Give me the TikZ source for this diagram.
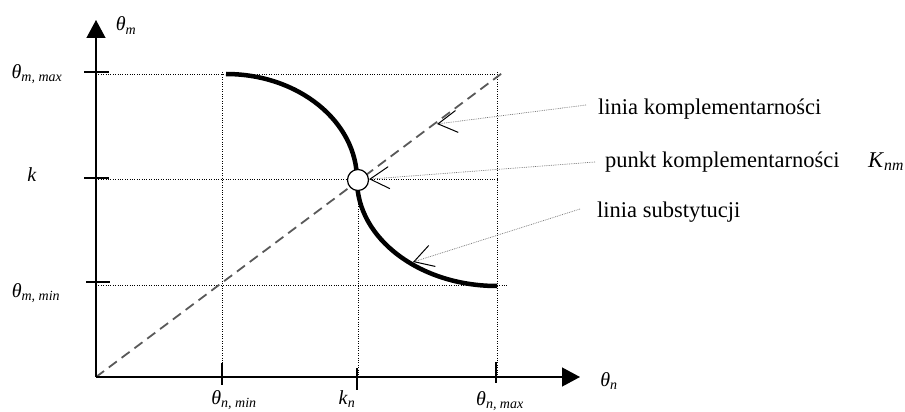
\documentclass[tikz,border=0pt]{standalone}
\usepackage{fontspec}
\setmainfont{Liberation Serif}
\usetikzlibrary{arrows.meta,calc}
\newcommand{\ths}[2]{\textit{#1}\textsubscript{\textit{#2}}}
\begin{document}
\begin{tikzpicture}[x=1pt,y=-1pt,
  axis/.style={line width=1.3pt,-{Triangle[length=18pt,width=19pt]}},
  tickmark/.style={line width=1.3pt},
  gridline/.style={line width=0.9pt,dash pattern=on 1pt off 1.4pt},
  diag/.style={line width=1.8pt,draw=black!65,dash pattern=on 10pt off 6pt},
  curvestyle/.style={line width=4.5pt},
  callout/.style={line width=0.7pt,draw=black!55,dash pattern=on 0.8pt off 1pt,-{Straight Barb[length=19pt,width=22pt,line width=1pt,color=black]}},
  lbl/.style={font=\fontsize{20}{24}\selectfont,inner sep=0pt,anchor=base},
  txt/.style={font=\fontsize{22.5}{27}\selectfont,inner sep=0pt,anchor=base west}
]
\useasboundingbox (0,0) rectangle (905,412);
% key coordinates
\coordinate (O) at (96,377);
\coordinate (Ytop) at (96,20);
\coordinate (Xend) at (580,377);
\coordinate (D) at (505,71);
\coordinate (A) at (226,74);
\coordinate (B) at (357,180);
\coordinate (C) at (497,286);
% grid (dotted)
\coordinate (gmaxL) at (96,74);   \coordinate (gmaxR) at (497,74);
\coordinate (gkL) at (96,179);    \coordinate (gkR) at (497,179);
\coordinate (gminL) at (96,285);  \coordinate (gminR) at (508,285);
\coordinate (vminT) at (222,72);  \coordinate (vminB) at (222,377);
\coordinate (vkT) at (358,180);   \coordinate (vkB) at (358,377);
\coordinate (vmaxT) at (497,72);  \coordinate (vmaxB) at (497,377);
\draw[gridline] (gmaxL) -- (gmaxR);
\draw[gridline] (gkL) -- (gkR);
\draw[gridline] (gminL) -- (gminR);
\draw[gridline] (vminT) -- (vminB);
\draw[gridline] (vkT) -- (vkB);
\draw[gridline] (vmaxT) -- (vmaxB);
% complementarity line
\draw[diag] (O) -- (D);
% substitution curve
\draw[curvestyle] (A) .. controls (298.4,74) and (357,121.5) .. (B)
                      .. controls (357,238.5) and (419.7,286) .. (C);
% complementarity point
\node[circle,draw,fill=white,line width=1.2pt,minimum size=21pt,inner sep=0pt] (Kc) at (358,180) {};
% axes
\draw[axis] (O) -- (Ytop);
\draw[axis] (O) -- (Xend);
% ticks
\coordinate (t1a) at (84,72);  \coordinate (t1b) at (109,72);
\coordinate (t2a) at (84,178); \coordinate (t2b) at (109,178);
\coordinate (t3a) at (86,282); \coordinate (t3b) at (110,282);
\coordinate (t4a) at (222,363); \coordinate (t4b) at (222,385);
\coordinate (t5a) at (357,368); \coordinate (t5b) at (357,390);
\coordinate (t6a) at (496,362); \coordinate (t6b) at (496,383);
\draw[tickmark] (t1a) -- (t1b);
\draw[tickmark] (t2a) -- (t2b);
\draw[tickmark] (t3a) -- (t3b);
\draw[tickmark] (t4a) -- (t4b);
\draw[tickmark] (t5a) -- (t5b);
\draw[tickmark] (t6a) -- (t6b);
% axis labels
\node[lbl] (lm) at (126,31) {\ths{θ}{m}};
\node[lbl] (ln) at (609,386) {\ths{θ}{n}};
\node[lbl] (lmax) at (37,78) {\ths{θ}{m, max}};
\node[lbl] (lk) at (32,181) {\textit{k}};
\node[lbl] (lmin) at (36,297) {\ths{θ}{m, min}};
\node[lbl] (lnmin) at (234,404) {\ths{θ}{n, min}};
\node[lbl] (lkn) at (347,404) {\ths{k}{n}};
\node[lbl] (lnmax) at (500,405) {\ths{θ}{n, max}};
% callout texts
\node[txt] (t1) at (598,114) {linia komplementarności};
\node[txt] (t2) at (605,167) {punkt komplementarności};
\node[txt] (t2k) at (868,167) {\ths{K}{nm}};
\node[txt] (t3) at (597,217) {linia substytucji};
% callout lines
\coordinate (c1s) at (586,105); \coordinate (c1e) at (437,124);
\coordinate (c2s) at (595,162);
\coordinate (c3s) at (580,209); \coordinate (c3e) at (413,262);
\draw[callout] (c1s) -- (c1e);
\draw[callout] (c2s) -- (Kc);
\draw[callout] (c3s) -- (c3e);
\end{tikzpicture}
\end{document}
